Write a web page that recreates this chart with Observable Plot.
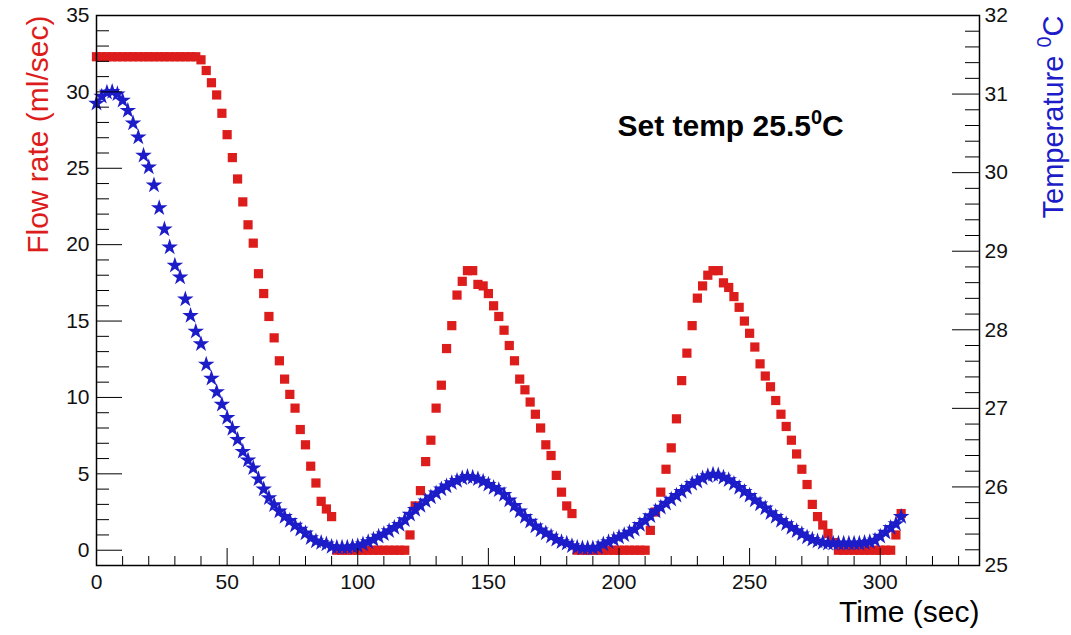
<!DOCTYPE html>
<html><head><meta charset="utf-8">
<script src="https://cdn.jsdelivr.net/npm/d3@7"></script>
<script src="https://cdn.jsdelivr.net/npm/@observablehq/plot@0.6"></script>
<style>body{margin:0;background:#fff} svg{display:block}</style>
</head><body><div id="chart"></div>
<script>
// sample times (s), one reading every 2 s
const timeSec = d3.range(0, 309, 2);
// flow rate (ml/sec), left axis
const flowRate = [
 32.3,32.3,32.3,32.3,32.3,32.3,32.3,32.3,32.3,32.3,
 32.3,32.3,32.3,32.3,32.3,32.3,32.3,32.3,32.3,32.3,
 32.1,31.4,30.6,29.8,28.6,27.2,25.7,24.3,22.8,21.3,
 20.1,18.1,16.8,15.3,13.9,12.4,11.2,10.2,9.3,7.9,
 6.9,5.5,4.4,3.2,2.7,2.2,
 0,0,0,0,0,0,0,0,0,0,0,0,0,0,
 1.0,2.9,3.9,5.8,7.2,9.3,10.8,13.2,14.7,16.7,
 17.6,18.3,18.3,17.4,17.3,16.8,16.0,15.3,14.4,13.4,
 12.4,11.2,10.5,9.7,8.9,8.0,6.9,6.2,4.9,3.8,
 2.9,2.4,
 0,0,0,0,0,0,0,0,0,0,0,0,0,0,
 1.3,2.5,3.8,5.3,6.7,8.6,11.1,12.9,14.7,16.5,
 17.3,18.0,18.3,18.3,17.5,17.2,16.6,15.9,15.0,14.2,
 13.3,12.2,11.4,10.7,9.8,8.9,8.1,7.2,6.3,5.3,
 4.3,3.0,2.2,1.65,1.1,0.5,
 0,0,0,0,0,0,0,0,0,0,0,
 1.0,2.4
];
// temperature (deg C), right axis
const temperature = [
 30.88,30.97,31.02,31.03,31.00,30.92,30.79,30.63,30.45,30.22,
 30.07,29.84,29.55,29.28,29.05,28.82,28.67,28.39,28.18,27.98,
 27.82,27.56,27.38,27.21,27.05,26.88,26.74,26.60,26.45,26.34,
 26.24,26.10,25.97,25.86,25.77,25.69,25.62,25.57,25.51,25.46,
 25.41,25.35,25.31,25.29,25.27,25.24,25.23,25.23,25.23,25.24,
 25.25,25.27,25.30,25.33,25.37,25.40,25.44,25.48,25.52,25.58,
 25.65,25.71,25.76,25.82,25.87,25.92,25.97,26.01,26.05,26.08,
 26.11,26.13,26.12,26.10,26.07,26.03,25.99,25.96,25.90,25.83,
 25.76,25.69,25.62,25.56,25.50,25.45,25.41,25.37,25.33,25.30,
 25.28,25.25,25.23,25.22,25.22,25.22,25.23,25.27,25.30,25.33,
 25.36,25.39,25.42,25.46,25.52,25.57,25.63,25.69,25.74,25.79,
 25.84,25.89,25.94,25.99,26.04,26.07,26.11,26.14,26.16,26.15,
 26.12,26.09,26.04,25.99,25.94,25.89,25.83,25.78,25.73,25.67,
 25.62,25.57,25.53,25.48,25.44,25.40,25.36,25.33,25.31,25.29,
 25.28,25.28,25.28,25.28,25.28,25.28,25.28,25.29,25.30,25.32,
 25.37,25.42,25.48,25.53,25.62
];
const xMajor = [0,50,100,150,200,250,300];
const xMinor = d3.range(0, 339, 10).filter(d => d % 50 !== 0);
const flowMajor = [0,5,10,15,20,25,30,35];
const flowMinor = d3.range(1, 35, 1).filter(d => d % 5 !== 0);
const tempMajor = [25,26,27,28,29,30,31,32];
const tempMinor = d3.range(25.2, 32, 0.2).filter(d => Math.abs(d - Math.round(d)) > 0.05);
const xTitle = "Time (sec)";
const yTitle = "Flow rate (ml/sec)";
const y2Title = "Temperature ^0C";
const note = "Set temp 25.5^0C";

const W = 1071, H = 635, mL = 96, mR = 92, mT = 15, mB = 70;
const innerW = W - mL - mR, innerH = H - mT - mB;
const yMin = -1, yMax = 35, tMin = 25, tMax = 32;
const t2y = T => yMin + (T - tMin) * (yMax - yMin) / (tMax - tMin);
const y2t = y => tMin + (y - yMin) * (tMax - tMin) / (yMax - yMin);

const data = timeSec.map((t, i) => ({t, flow: flowRate[i], temp: temperature[i]}));
const RED = "#dd1c1c", BLUE = "#1c1cc8";
const font = "'Liberation Sans', Arial, Helvetica, sans-serif";

const chart = Plot.plot({
  width: W, height: H,
  marginLeft: mL, marginRight: mR, marginTop: mT, marginBottom: mB,
  style: {fontFamily: font, fontSize: "21px", background: "white", color: "#111"},
  x: {domain: [0, 338]},
  y: {domain: [yMin, yMax]},
  marks: [
    Plot.dot(data, {x: "t", y: "flow", symbol: "square", r: 5.2, fill: RED}),
    Plot.dot(data, {x: "t", y: d => t2y(d.temp), symbol: "star", r: 5.2, fill: BLUE}),
    Plot.frame({stroke: "black", strokeWidth: 1.5}),
    Plot.tickX(xMinor, {x: d => d, insetTop: innerH - 9, stroke: "black"}),
    Plot.tickX(xMajor, {x: d => d, insetTop: innerH - 17, stroke: "black"}),
    Plot.tickY(flowMinor, {y: d => d, insetRight: innerW - 13, stroke: "black"}),
    Plot.tickY(flowMajor, {y: d => d, insetRight: innerW - 26, stroke: "black"}),
    Plot.tickY(tempMinor.map(t2y), {y: d => d, insetLeft: innerW - 14, stroke: "black"}),
    Plot.tickY(tempMajor.map(t2y), {y: d => d, insetLeft: innerW - 27, stroke: "black"}),
    Plot.axisX(xMajor, {anchor: "bottom", tickSize: 0, tickPadding: 9, fontSize: 21, label: null}),
    Plot.axisY(flowMajor, {anchor: "left", tickSize: 0, tickPadding: 7, fontSize: 21, label: null}),
    Plot.axisY(tempMajor.map(t2y), {anchor: "right", tickSize: 0, tickPadding: 5, fontSize: 21, label: null,
      tickFormat: d => String(Math.round(y2t(d)))}),
    Plot.text([yTitle], {text: d => d, frameAnchor: "top-left", dx: -70, rotate: -90, textAnchor: "end", fill: RED, fontSize: 30}),
    Plot.text([y2Title], {text: d => d, frameAnchor: "top-right", dx: 63, rotate: -90, textAnchor: "end", fill: BLUE, fontSize: 29}),
    Plot.text([note], {text: d => d, frameAnchor: "top-left", dx: 521, dy: 99, textAnchor: "start", fontWeight: "bold", fontSize: 30, fill: "black"}),
    Plot.text([xTitle], {text: d => d, frameAnchor: "bottom-right", dy: 56, textAnchor: "end", fontSize: 30, fill: "black"})
  ]
});

// render "^0" as a superscript zero
d3.select(chart).selectAll("text").each(function () {
  const s = this.textContent;
  if (!s.includes("^0")) return;
  const [a, b] = s.split("^0");
  const el = d3.select(this);
  el.text(null);
  el.append("tspan").text(a);
  el.append("tspan").attr("dy", "-12").attr("font-size", "20").text("0");
  el.append("tspan").attr("dy", "12").text(b);
});

document.getElementById("chart").append(chart);
</script>
</body></html>
